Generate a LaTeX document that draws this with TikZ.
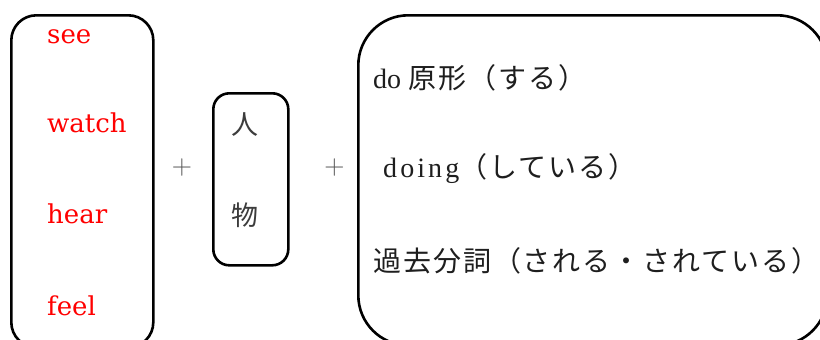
\documentclass[tikz,border=0pt]{standalone}
\usepackage{fontspec}
\setmainfont{Liberation Serif}
\newfontfamily\redfont{DejaVu Serif}
\newfontfamily\spaced[LetterSpace=11]{Liberation Serif}
\newfontfamily\plusfont{Latin Modern Roman}
\newfontfamily\jp[LetterSpace=7]{Noto Sans CJK JP}
\definecolor{wordred}{RGB}{255,0,0}
\definecolor{kgray}{RGB}{60,60,60}
\definecolor{pgray}{RGB}{85,85,85}
\definecolor{tblack}{RGB}{30,30,30}
\begin{document}
\begin{tikzpicture}[x=1pt,y=-1pt,
  box/.style={draw=black,line width=2.6pt,rectangle,inner sep=0pt,anchor=north west},
  word/.style={text=wordred,font=\fontsize{26}{30}\redfont,anchor=base west,inner sep=0pt},
  kanji/.style={text=kgray,font=\fontsize{27}{30}\jp,anchor=base,inner sep=0pt},
  txtline/.style={text=tblack,font=\fontsize{28}{30}\selectfont,anchor=base west,inner sep=0pt},
  plussign/.style={text=pgray,font=\fontsize{28}{30}\plusfont,inner sep=0pt}]
\useasboundingbox (0,0) rectangle (820,340);
\clip (0,0) rectangle (820,340);
% boxes
\node[box,rounded corners=25pt,minimum width=142pt,minimum height=332pt] (verbs) at (10,14) {};
\node[box,rounded corners=16pt,minimum width=75pt,minimum height=172pt] (person) at (212,92) {};
\node[box,rounded corners=50pt,minimum width=469pt,minimum height=330pt] (forms) at (357,14) {};
% verbs
\node[word] (see) at (47,43) {see};
\node[word] (watch) at (47,132) {watch};
\node[word] (hear) at (47,223) {hear};
\node[word] (feel) at (47,315) {feel};
% person / thing
\node[kanji] (hito) at (244.5,134) {人};
\node[kanji] (mono) at (244.5,225) {物};
% plus signs
\node[plussign] (plusA) at (182,168) {+};
\node[plussign] (plusB) at (334.5,168) {+};
% forms
\node[txtline] (lineA) at (373,88) {do {\jp 原形（する）}};
\node[txtline] (lineB) at (383,177) {{\spaced doing}{\jp（している）}};
\node[txtline] (lineC) at (373,271) {\jp 過去分詞（される・されている）};
\end{tikzpicture}
\end{document}
